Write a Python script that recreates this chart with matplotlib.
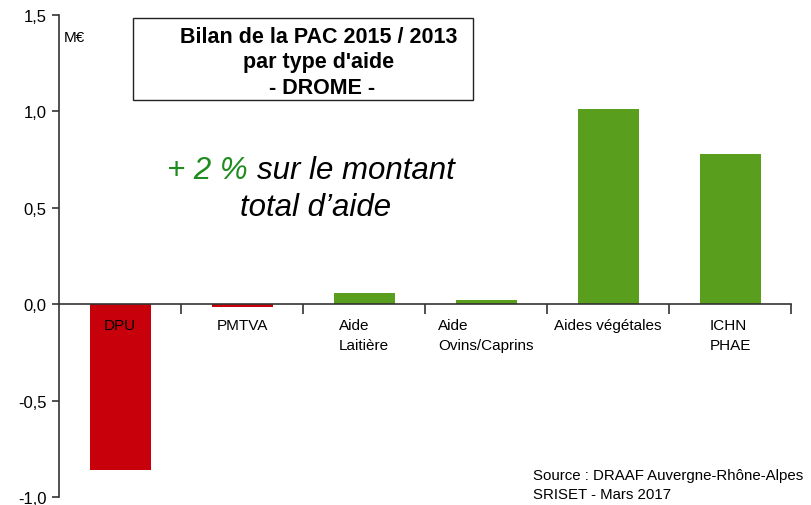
import matplotlib
matplotlib.use("Agg")
import matplotlib.pyplot as plt
from matplotlib.patches import Rectangle

plt.rcParams['font.family'] = ['Liberation Sans', 'DejaVu Sans']

categories = ["DPU", "PMTVA", "Aide\nLaitière", "Aide\nOvins/Caprins", "Aides végétales", "ICHN\nPHAE"]
values = [-0.86, -0.015, 0.057, 0.02, 1.01, 0.78]
yticks = [-1.0, -0.5, 0.0, 0.5, 1.0, 1.5]
ytick_labels = ["-1,0", "-0,5", "0,0", "0,5", "1,0", "1,5"]

RED = "#C8000B"
GREEN = "#5A9E1D"
colors = [RED if v < 0 else GREEN for v in values]

W, H = 811, 506
fig = plt.figure(figsize=(W / 100, H / 100), dpi=100)
ax = fig.add_axes([59 / W, (H - 498) / H, (791 - 59) / W, (498 - 16) / H])
ax.set_axisbelow(False)

x = list(range(len(categories)))
ax.bar(x, values, width=0.5, color=colors, zorder=1)

ax.set_xlim(-0.5, 5.5)
ax.set_ylim(-1.0, 1.5)
ax.set_yticks(yticks)
ax.set_yticklabels(ytick_labels, fontsize=12)
ax.tick_params(axis='y', direction='out', length=5, width=1.2, color='#333333', pad=4)

ax.spines['top'].set_visible(False)
ax.spines['right'].set_visible(False)
ax.spines['left'].set_color('#333333')
ax.spines['left'].set_linewidth(1.2)
ax.spines['bottom'].set_position(('data', 0))
ax.spines['bottom'].set_color('#333333')
ax.spines['bottom'].set_linewidth(1.2)

ax.set_xticks([i + 0.5 for i in range(len(categories))])
ax.set_xticklabels([])
ax.tick_params(axis='x', which='major', direction='out', length=7, width=1.2, color='#333333')
ax.set_xticks(x, minor=True)
ax.set_xticklabels(categories, minor=True, fontsize=11)
ax.tick_params(axis='x', which='minor', length=0, pad=10)
for lab in ax.get_xticklabels(minor=True):
    lab.set_multialignment('left')
    lab.set_linespacing(1.55)

# M€ unit
fig.text(64 / W, 1 - 38 / H, "M€", fontsize=11, ha='left', va='center')

# Title box
fig.patches.append(Rectangle((133 / W, 1 - 101 / H), (473 - 133) / W, (101 - 19) / H,
                             transform=fig.transFigure, fill=False, edgecolor='#222222', linewidth=1.0))
fig.text(319 / W, 1 - 63 / H, "Bilan de la PAC 2015 / 2013\npar type d'aide\n - DROME -",
         fontsize=15.5, fontweight='bold', ha='center', va='center', linespacing=1.3)

# Annotation
fig.text(167 / W, 1 - 171 / H, "+ 2 %", fontsize=22.5, style='italic', color='#1E8C1E',
         ha='left', va='center')
fig.text(257 / W, 1 - 171 / H, "sur le montant", fontsize=22.5, style='italic', color='black',
         ha='left', va='center')
fig.text(316 / W, 1 - 208 / H, "total d’aide", fontsize=22.5, style='italic', color='black',
         ha='center', va='center')

# Source
fig.text(533 / W, 1 - 476 / H, "Source : DRAAF Auvergne-Rhône-Alpes", fontsize=10.8, ha='left', va='center')
fig.text(533 / W, 1 - 495 / H, "SRISET - Mars 2017", fontsize=10.8, ha='left', va='center')

fig.savefig("out.png", dpi=100)
